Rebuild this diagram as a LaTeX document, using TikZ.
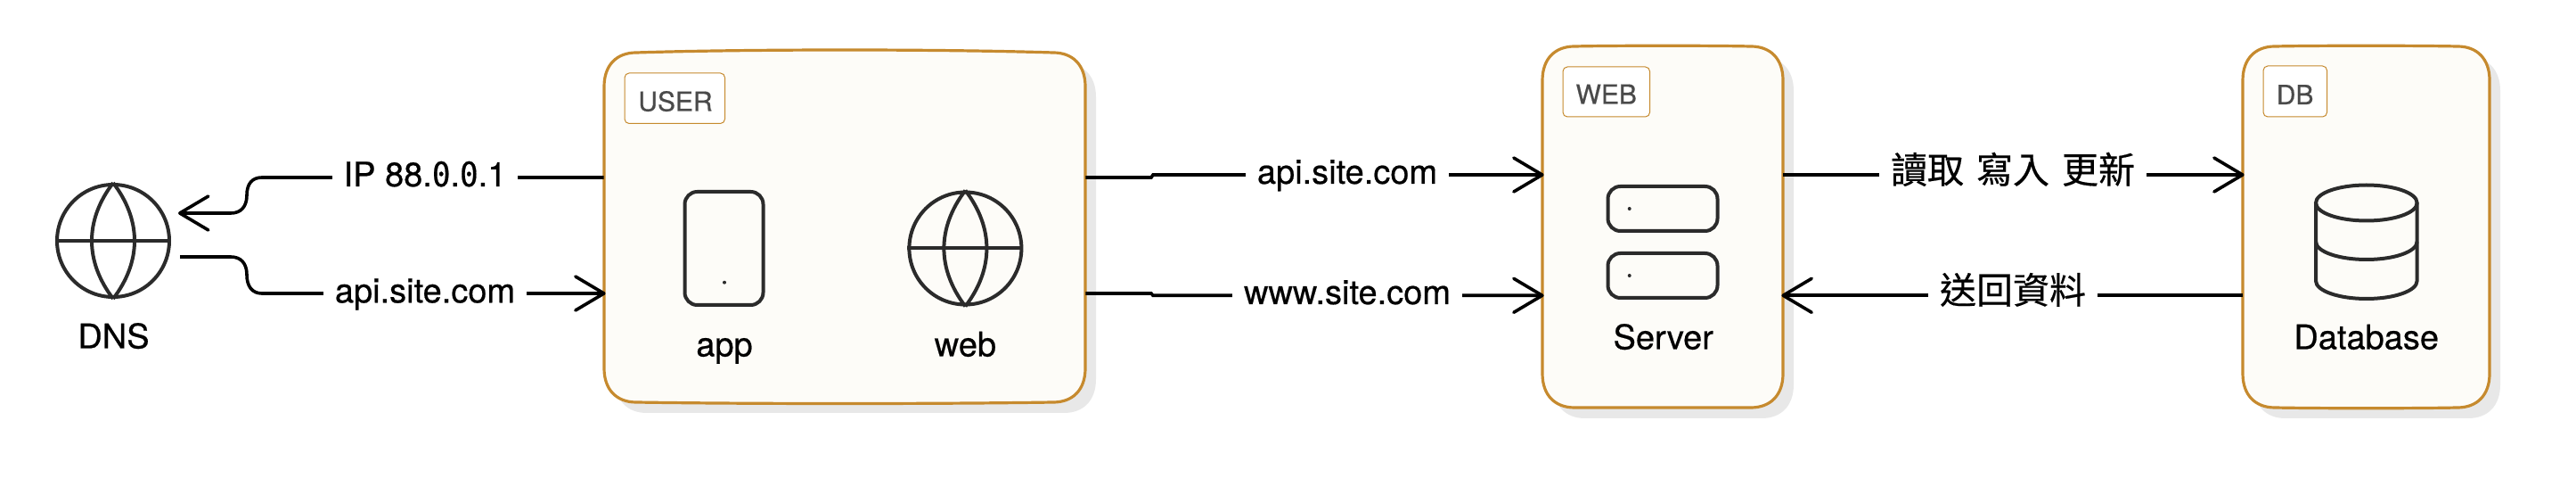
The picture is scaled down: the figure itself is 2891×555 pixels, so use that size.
\documentclass[tikz,border=0pt]{standalone}
\usepackage{fontspec}
\setmainfont[FakeBold=0.5]{TeX Gyre Heros}
\newfontfamily\cjkf[FakeBold=0.4]{Noto Sans CJK TC}
\newfontfamily\zerof[FakeStretch=0.9,FakeBold=0.5]{DejaVu Sans Mono}
\usetikzlibrary{arrows.meta,fit}
\definecolor{cardfill}{HTML}{FDFCF8}
\definecolor{cardline}{HTML}{C68A2E}
\definecolor{cardshadow}{HTML}{E8E8E8}
\definecolor{iconline}{HTML}{2B2B2B}
\definecolor{taggray}{HTML}{4A4A4A}
\newcommand{\cardpath}[6]{%
 ({#1+36},#2) .. controls ({#1+.3*(#3-#1)},{#2-#5}) and ({#3-.3*(#3-#1)},{#2-#5}) .. ({#3-36},#2)
 .. controls ({#3-14},#2) and (#3,{#2+14}) .. (#3,{#2+38})
 -- (#3,{#4-38})
 .. controls (#3,{#4-14}) and ({#3-14},#4) .. ({#3-36},#4)
 .. controls ({#3-.3*(#3-#1)},{#4+#6}) and ({#1+.3*(#3-#1)},{#4+#6}) .. ({#1+36},#4)
 .. controls ({#1+14},#4) and (#1,{#4-14}) .. (#1,{#4-38})
 -- (#1,{#2+38})
 .. controls (#1,{#2+14}) and ({#1+14},#2) .. ({#1+36},#2) -- cycle}
% name, x0,y0,x1,y1, top bulge, bottom bulge
\newcommand{\cardbox}[7]{%
 \fill[cardshadow] \cardpath{#2+12}{#3+12}{#4+12}{#5+12}{0}{0};
 \draw[cardline,fill=cardfill,line width=1.6pt] \cardpath{#2}{#3}{#4}{#5}{#6}{#7};
 \node[anchorbox,fit={(#2,#3)(#4,#5)}] (#1) {};}
\newcommand{\globelines}[1]{%
 \draw[iconstroke] (#1.west) -- (#1.east);
 \draw[iconstroke] (#1.north) .. controls +(-32,42) and +(-32,-42) .. (#1.south);
 \draw[iconstroke] (#1.north) .. controls +(32,42) and +(32,-42) .. (#1.south);}
\tikzset{
 x=0.5pt,y=-0.5pt,
 anchorbox/.style={rectangle,inner sep=0pt,draw=none},
 iconstroke/.style={draw=iconline,line width=2pt},
 globeicon/.style={circle,draw=iconline,line width=2pt,minimum size=63pt,inner sep=0pt},
 phoneicon/.style={rectangle,rounded corners=7pt,draw=iconline,line width=2pt,minimum width=44pt,minimum height=63.5pt,inner sep=0pt},
 servericon/.style={rectangle,rounded corners=7pt,draw=iconline,line width=2pt,minimum width=61.5pt,minimum height=25pt,inner sep=0pt},
 icondot/.style={circle,fill=iconline,minimum size=2pt,inner sep=0pt},
 iconcap/.style={font=\fontsize{19}{22}\selectfont,anchor=base,inner sep=0pt},
 tagbox/.style={rectangle,rounded corners=2.5pt,draw=cardline,line width=0.5pt,fill=white,inner sep=0pt},
 tagtext/.style={font=\fontsize{15}{18}\selectfont,text=taggray,anchor=base,inner sep=0pt},
 edgelabel/.style={font=\fontsize{19}{22}\selectfont,anchor=base,fill=white,inner xsep=6.5pt,inner ysep=1pt},
 conn/.style={line width=1.8pt,black},
 connarrow/.style={conn,shorten >=-1pt,-{Straight Barb[length=16pt,width=19pt,round,line width=1.8pt]}},
}
\begin{document}
\begin{tikzpicture}
\useasboundingbox (0,0) rectangle (2891,555);
\fill[white] (0,0) rectangle (2891,555);
% cards
\cardbox{userbox}{678}{59}{1218}{451}{4}{2}
\cardbox{webbox}{1731}{52}{2001}{457}{1}{0}
\cardbox{dbbox}{2517}{52}{2794}{457}{1}{1}
% tags
\node[tagbox,fit={(701,82)(813.5,138.5)}] (usertag) {};
\node[tagbox,fit={(1754,75)(1851.5,131)}] (webtag) {};
\node[tagbox,fit={(2540,74)(2611.5,131)}] (dbtag) {};
\node[tagtext] (usertext) at (758,124.5) {USER};
\node[tagtext] (webtext) at (1802.7,116.5) {WEB};
\node[tagtext] (dbtext) at (2575.6,117) {DB};
% icons
\node[globeicon] (dnsicon) at (127,270) {};
\globelines{dnsicon}
\node[iconcap] (dnscap) at (127.5,390.5) {DNS};
\node[phoneicon] (appicon) at (812.5,278.5) {};
\node[icondot] (appdot) at (813,316.7) {};
\node[iconcap] (appcap) at (813,399.5) {app};
\node[globeicon] (webicon) at (1083.4,278.5) {};
\globelines{webicon}
\node[iconcap] (webcap) at (1083.4,399.5) {web};
\node[servericon] (srvone) at (1866,234) {};
\node[icondot] (srvonedot) at (1828.7,234) {};
\node[servericon] (srvtwo) at (1866,309) {};
\node[icondot] (srvtwodot) at (1828.7,309) {};
\node[iconcap] (srvcap) at (1866.7,391.5) {Server};
\node[anchorbox,minimum width=56.75pt,minimum height=63.5pt] (dbicon) at (2655.8,271.5) {};
\path (2655.8,227.5) coordinate (dbtop);
\draw[iconstroke,fill=cardfill] (dbtop) ellipse [x radius=56.8,y radius=20];
\draw[iconstroke] (2599,227.5) -- (2599,315) arc[start angle=180,end angle=360,x radius=56.8,y radius=-20] -- (2712.6,227.5);
\draw[iconstroke] (2599,271) arc[start angle=180,end angle=360,x radius=56.8,y radius=-20];
\node[iconcap] (dbcap) at (2655.7,391.5) {Database};
% connector levels and free ends
\coordinate (lvA) at (0,199);
\coordinate (lvB) at (0,329);
\coordinate (lvC) at (0,196);
\coordinate (lvD) at (0,331.3);
\coordinate (dnsin) at (202,239);
\coordinate (dnsout) at (202,288);
% connectors
\draw[connarrow] (userbox.west |- lvA) -- (294,199) .. controls (283,199) and (277,206) .. (277,219) .. controls (277,232) and (270,239) .. (259,239) -- (dnsin);
\draw[connarrow] (dnsout) -- (259,288) .. controls (270,288) and (277,295) .. (277,308) .. controls (277,321) and (283,329) .. (294,329) -- (userbox.west |- lvB);
\draw[connarrow] (userbox.east |- lvA) -- (1292,199) -- (1294,196) -- (webbox.west |- lvC);
\draw[connarrow] (userbox.east |- lvB) -- (1292,329) -- (1294,331.3) -- (webbox.west |- lvD);
\draw[connarrow] (webbox.east |- lvC) -- (dbbox.west |- lvC);
\draw[connarrow] (dbbox.west |- lvD) -- (webbox.east |- lvD);
% labels
\node[edgelabel] (ipl) at (477,209) {IP 88.{\zerof 0}.{\zerof 0}.1};
\node[edgelabel] (apia) at (477,339.3) {api.site.com};
\node[edgelabel] (apib) at (1512,206) {api.site.com};
\node[edgelabel] (wwwl) at (1512,341) {www.site.com};
\node[edgelabel] (rwu) at (2259,205.5) {\cjkf\fontsize{20.5}{22}\selectfont 讀取\hspace{7pt}寫入\hspace{7pt}更新};
\node[edgelabel] (back) at (2259,340.5) {\cjkf\fontsize{20.5}{22}\selectfont 送回資料};
\end{tikzpicture}
\end{document}
